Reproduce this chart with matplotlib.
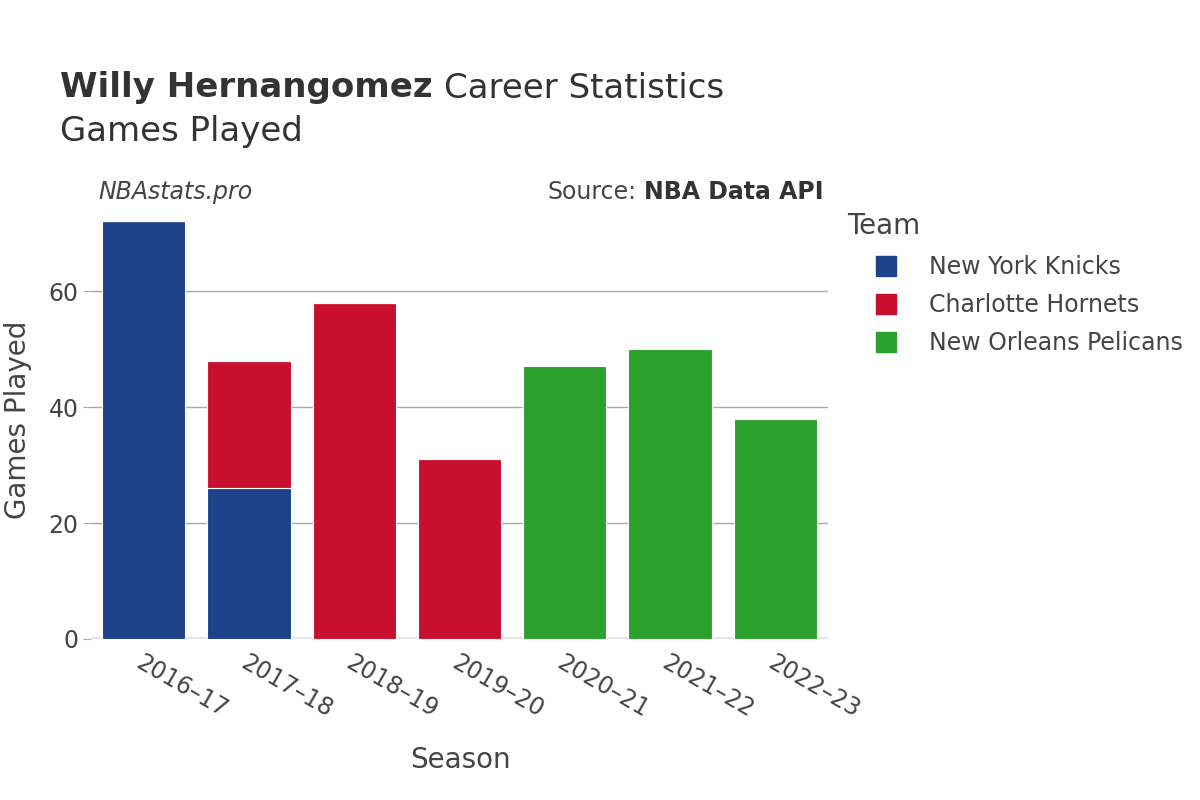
import numpy as np
import matplotlib.pyplot as plt
from matplotlib.lines import Line2D

# Data
seasons = ["2016–17", "2017–18", "2018–19", "2019–20", "2020–21", "2021–22", "2022–23"]
teams = ["New York Knicks", "Charlotte Hornets", "New Orleans Pelicans"]
knicks = [72, 26, 0, 0, 0, 0, 0]
hornets = [0, 22, 58, 31, 0, 0, 0]
pelicans = [0, 0, 0, 0, 47, 50, 38]
team_colors = ["#1d428a", "#c8102e", "#2ca02c"]

text_color = "#444444"
title_color = "#333333"
plt.rcParams['font.family'] = ['DejaVu Sans']

W, H = 1200, 800
fig = plt.figure(figsize=(12, 8), dpi=100)
ax = fig.add_axes([91 / W, 1 - 639 / H, 737 / W, 439 / H])

x = np.arange(len(seasons))
bottom = np.zeros(len(seasons))
for vals, color in zip([knicks, hornets, pelicans], team_colors):
    vals = np.array(vals, dtype=float)
    ax.bar(x, vals, width=0.79, bottom=bottom, color=color,
           edgecolor="white", linewidth=0.8, zorder=3)
    bottom += vals

ax.set_xlim(-0.5, len(seasons) - 0.5)
ax.set_ylim(0, 75.7)
ax.set_yticks([0, 20, 40, 60])
ax.yaxis.grid(True, color="#aaaaaa", linewidth=1, zorder=0)
ax.axhline(0, color="#e6e6e6", linewidth=3, zorder=2)
for s in ax.spines.values():
    s.set_visible(False)

ax.tick_params(axis="y", length=6, color="#aaaaaa", labelsize=17,
               labelcolor=text_color, pad=3)
ax.tick_params(axis="x", length=0, labelsize=17, labelcolor=text_color, pad=8)
ax.set_xticks(x)
ax.set_xticklabels(seasons, rotation=-30, ha="left", va="top",
                   rotation_mode="anchor")
for lbl in ax.get_xticklabels():
    lbl.set_x(lbl.get_position()[0])

# Axis titles
fig.text(460 / W, 1 - 760 / H, "Season", fontsize=20, color=text_color,
         ha="center", va="center")
fig.text(18 / W, 1 - 420 / H, "Games Played", fontsize=20, color=text_color,
         ha="center", va="center", rotation=90)

# Titles and annotations
fig.canvas.draw()
renderer = fig.canvas.get_renderer()
t1 = fig.text(60 / W, 1 - 88 / H, "Willy Hernangomez", fontsize=24.5,
              fontweight="bold", color=title_color, va="center")
bb = t1.get_window_extent(renderer)
fig.text((bb.x1 + 11) / W, 1 - 88 / H, "Career Statistics", fontsize=24.5,
         color=title_color, va="center")
fig.text(60 / W, 1 - 132 / H, "Games Played", fontsize=24.5,
         color=title_color, va="center")
fig.text(98 / W, 1 - 192 / H, "NBAstats.pro", fontsize=17,
         style="italic", color=text_color, va="center")
t2 = fig.text(824 / W, 1 - 192 / H, "NBA Data API", fontsize=17,
              fontweight="bold", color=title_color, va="center", ha="right")
bb2 = t2.get_window_extent(renderer)
fig.text((bb2.x0 - 8) / W, 1 - 192 / H, "Source:", fontsize=17,
         color=text_color, va="center", ha="right")

# Legend
fig.text(847 / W, 1 - 226 / H, "Team", fontsize=20, color=text_color,
         va="center")
handles = [Line2D([0], [0], marker="s", linestyle="none", markersize=15,
                  markerfacecolor=c, markeredgecolor=c) for c in team_colors]
leg = fig.legend(handles, teams, loc="upper left",
                 bbox_to_anchor=(862 / W, 1 - 255 / H), frameon=False,
                 fontsize=17, labelcolor=text_color, handletextpad=0.85,
                 labelspacing=0.6, borderaxespad=0, borderpad=0)

fig.savefig("out.png", dpi=100, facecolor="white")
